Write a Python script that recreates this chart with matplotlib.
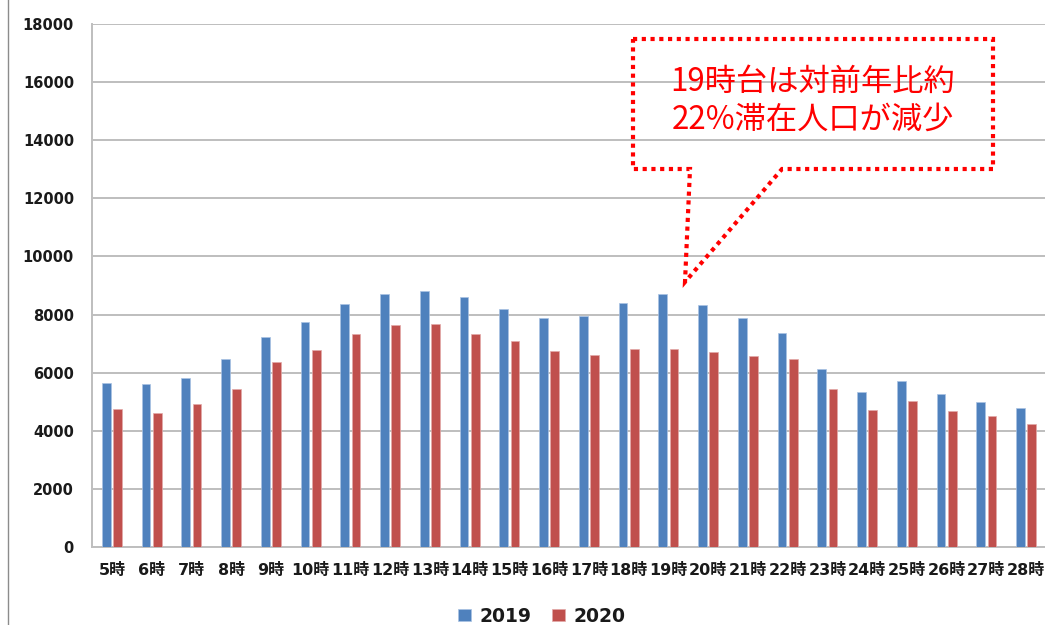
import matplotlib
matplotlib.use("Agg")
import matplotlib.pyplot as plt
import numpy as np
from matplotlib.lines import Line2D
from matplotlib.patches import Polygon

hours = [f"{h}時" for h in range(5, 29)]
values_2019 = [5640, 5610, 5810, 6460, 7240, 7760, 8360, 8700, 8800, 8620, 8200, 7870,
               7960, 8390, 8700, 8340, 7890, 7380, 6120, 5340, 5700, 5260, 4980, 4800]
values_2020 = [4740, 4620, 4930, 5430, 6360, 6790, 7320, 7650, 7690, 7320, 7080, 6750,
               6600, 6830, 6830, 6720, 6580, 6460, 5450, 4700, 5020, 4680, 4500, 4240]
series_names = ["2019", "2020"]
yticks = [0, 2000, 4000, 6000, 8000, 10000, 12000, 14000, 16000, 18000]
callout_lines = ["19時台は対前年比約", "22%滞在人口が減少"]

blue = "#4F81BD"
red = "#C0504D"

fig = plt.figure(figsize=(10.45, 6.25), dpi=100)
ax = fig.add_axes([92 / 1045, 78 / 625, 954 / 1045, 523 / 625])

x = np.arange(len(hours))
w = 0.22
off = 0.143
b1 = ax.bar(x - off, values_2019, width=w, color=blue, edgecolor="#a9c2e3", linewidth=0.5,
            label=series_names[0], zorder=3)
b2 = ax.bar(x + off, values_2020, width=w, color=red, edgecolor="#e3a9a8", linewidth=0.5,
            label=series_names[1], zorder=3)

ax.set_xlim(-0.5, len(hours) - 0.5)
ax.set_ylim(0, 18000)
ax.set_yticks(yticks)
ax.set_yticklabels([str(v) for v in yticks])
ax.set_xticks(x)
ax.set_xticklabels(hours)
ax.yaxis.grid(True, color="#BEBEBE", linewidth=1.4, zorder=0)
ax.set_axisbelow(True)
for s in ["top", "right"]:
    ax.spines[s].set_visible(False)
for s in ["left", "bottom"]:
    ax.spines[s].set_color("#BEBEBE")
    ax.spines[s].set_linewidth(1.4)

ax.tick_params(axis="y", length=0, pad=13)
ax.tick_params(axis="x", length=0, pad=11.5)
for lab in ax.get_yticklabels():
    lab.set_fontfamily(["DejaVu Sans"])
    lab.set_fontweight("bold")
    lab.set_fontsize(10.5)
    lab.set_color("#1a1a1a")
for lab in ax.get_xticklabels():
    lab.set_fontfamily(["DejaVu Sans", "Noto Sans CJK JP"])
    lab.set_fontweight("bold")
    lab.set_fontsize(11.5)
    lab.set_color("#1a1a1a")

leg = fig.legend(handles=[b1, b2], labels=series_names, loc="center",
                 bbox_to_anchor=(541.5 / 1045, 9 / 625), ncol=2, frameon=False,
                 prop={"family": "DejaVu Sans", "weight": "bold", "size": 13.5},
                 handlelength=0.7, handleheight=0.6, handletextpad=0.45,
                 columnspacing=1.1, borderaxespad=0, borderpad=0)
for t in leg.get_texts():
    t.set_color("#1a1a1a")

# callout balloon (pixel coordinates of figure, y from top)
H = 625.0
pts = [(633, 39), (993, 39), (993, 169), (782, 169), (685, 282), (690, 169), (633, 169)]
poly = Polygon([(px / 1045, (H - py) / H) for px, py in pts], closed=True,
               transform=fig.transFigure, fill=False, edgecolor="#FF0000",
               linewidth=3.0, linestyle=(0, (1, 1.1)), joinstyle="miter")
poly.set_capstyle("butt")
fig.add_artist(poly)

fig.text(813 / 1045, (H - 82) / H, callout_lines[0], ha="center", va="center",
         color="#FF0000", fontsize=22.5, family=["Noto Sans CJK JP", "DejaVu Sans"])
fig.text(813 / 1045, (H - 120) / H, callout_lines[1], ha="center", va="center",
         color="#FF0000", fontsize=22.5, family=["Noto Sans CJK JP", "DejaVu Sans"])

# chart frame left edge
fig.add_artist(Line2D([7.5 / 1045, 7.5 / 1045], [0, 1], transform=fig.transFigure,
                      color="#8c8c8c", linewidth=1))

fig.savefig("out.png", dpi=100)
